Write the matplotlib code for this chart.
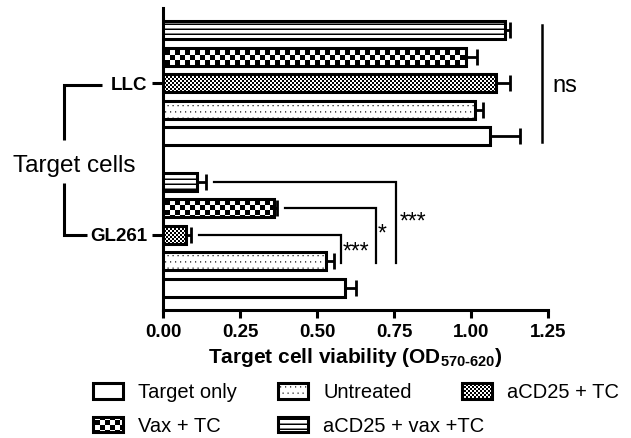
import numpy as np
import matplotlib
matplotlib.use('Agg')
import matplotlib.pyplot as plt
from matplotlib import hatch as mhatch
from matplotlib.path import Path
from matplotlib.patches import Patch
from matplotlib.lines import Line2D

# ---------------- data ----------------
groups = ['LLC', 'GL261']
series = ['aCD25 + vax +TC', 'Vax + TC', 'aCD25 + TC', 'Untreated', 'Target only']
llc_vals = [1.11, 0.985, 1.08, 1.013, 1.063]
llc_errs = [0.017, 0.035, 0.045, 0.027, 0.095]
gl_vals = [0.11, 0.36, 0.075, 0.53, 0.59]
gl_errs = [0.03, 0.01, 0.017, 0.025, 0.037]
xticks = [0.0, 0.25, 0.5, 0.75, 1.0, 1.25]
xtick_labels = ['0.00', '0.25', '0.50', '0.75', '1.00', '1.25']
sig_labels = ['***', '*', '***']          # aCD25+vax+TC, Vax+TC, aCD25+TC vs Untreated (GL261)
ns_label = 'ns'
legend_rows = [['Target only', 'Untreated', 'aCD25 + TC'],
               ['Vax + TC', 'aCD25 + vax +TC']]

# ---------------- custom fill patterns (checkerboards etc.) ----------------
class _RectHatch(mhatch.HatchPatternBase):
    char = ''
    def __init__(self, hatch, density):
        self.rects = self.make_rects() if (hatch and self.char in hatch) else []
        self.num_vertices = 5 * len(self.rects)
    def make_rects(self):
        return []
    def set_vertices_and_codes(self, vertices, codes):
        for i, (x0, y0, w, h) in enumerate(self.rects):
            vertices[5*i:5*i+5] = [(x0, y0), (x0+w, y0), (x0+w, y0+h), (x0, y0+h), (x0, y0)]
            codes[5*i] = Path.MOVETO
            codes[5*i+1:5*i+4] = Path.LINETO
            codes[5*i+4] = Path.CLOSEPOLY

class _Lines(_RectHatch):
    char = '-'
    def make_rects(self):
        return [(0, k/20, 1, 0.015) for k in range(20)]

class _Checker(_RectHatch):
    char = 'o'
    n = 20
    def make_rects(self):
        s = 1.0 / self.n
        return [(i*s, j*s, s, s) for i in range(self.n) for j in range(self.n) if (i+j) % 2 == 0]

class _FineChecker(_Checker):
    char = 'O'
    n = 50

class _Dots(_RectHatch):
    char = '.'
    def make_rects(self):
        out = []
        for r in range(16):
            for c in range(20):
                out.append(((c + 0.5*(r % 2))/20, r/16, 0.012, 0.012))
        return out

mhatch._hatch_types[:] = [_Lines, _Checker, _FineChecker, _Dots]

hatches = {'aCD25 + vax +TC': '-', 'Vax + TC': 'o', 'aCD25 + TC': 'O',
           'Untreated': '.', 'Target only': None}

plt.rcParams['font.family'] = ['Liberation Sans', 'DejaVu Sans']
plt.rcParams['mathtext.fontset'] = 'custom'
plt.rcParams['mathtext.rm'] = 'Liberation Sans:bold'
plt.rcParams['mathtext.bf'] = 'Liberation Sans:bold'
plt.rcParams['mathtext.it'] = 'Liberation Sans:bold'
plt.rcParams['hatch.linewidth'] = 0.0
plt.rcParams['hatch.color'] = 'black'

W, H = 631, 438
fig = plt.figure(figsize=(W/100, H/100), dpi=100)
ax = fig.add_axes([163/W, 1-310/H, 385/W, 302/H])

n = len(series)
llc_pos = np.arange(n, dtype=float)
gl_pos = np.arange(n, dtype=float) + n + 0.7
LW = 2.2
for vals, errs, pos in [(llc_vals, llc_errs, llc_pos), (gl_vals, gl_errs, gl_pos)]:
    for i, s in enumerate(series):
        ax.barh(pos[i], vals[i], height=0.68, color='white', edgecolor='black',
                linewidth=LW, hatch=hatches[s], zorder=3)
    ax.errorbar(vals, pos, xerr=[np.zeros(n), errs], fmt='none', ecolor='black',
                elinewidth=2, capsize=5.5, capthick=2, zorder=2)

ax.set_xlim(0, 1.25)
ax.set_ylim(10.53, -0.83)
ax.set_xticks(xticks)
ax.set_xticklabels(xtick_labels, fontweight='bold', fontsize=13.5)
ax.set_yticks([llc_pos[2], gl_pos[2]])
ax.set_yticklabels(groups, fontweight='bold', fontsize=13.5)
ax.tick_params(axis='x', length=6, width=LW, pad=4)
ax.tick_params(axis='y', length=8, width=LW, pad=3)
for sp in ['top', 'right']:
    ax.spines[sp].set_visible(False)
for sp in ['left', 'bottom']:
    ax.spines[sp].set_linewidth(LW)
ax.set_xlabel('Target cell viability (OD$_{570\u2010620}$)', fontweight='bold',
              fontsize=15, labelpad=4)

# significance brackets (GL261: each vs Untreated)
ref_y = gl_pos[3] + 0.05
bracket_right = [0.757, 0.69, 0.578]
star_xy = [(0.77, 7.48), (0.698, 7.9), (0.583, 8.6)]
for k in range(3):
    x0 = gl_vals[k] + gl_errs[k] + 0.025
    x1 = bracket_right[k]
    ax.plot([x0, x1, x1], [gl_pos[k], gl_pos[k], ref_y], color='black', lw=1.6,
            solid_joinstyle='miter', clip_on=False, zorder=4)
    ax.text(star_xy[k][0], star_xy[k][1], sig_labels[k], fontsize=16.5,
            ha='left', va='baseline')

# ns bar for LLC
ax.plot([1.23, 1.23], [llc_pos[0] - 0.19, llc_pos[4] + 0.2], color='black', lw=1.8, clip_on=False)
ax.text(1.266, 2.33, ns_label, fontsize=17, ha='left', va='baseline', clip_on=False)

# left "Target cells" bracket
def fp(x, y):
    return x / W, 1 - y / H
for pts in [[(102, 85), (64, 85), (64, 140)], [(64, 183), (64, 235), (87, 235)]]:
    xs, ys = zip(*[fp(*p) for p in pts])
    fig.add_artist(Line2D(xs, ys, transform=fig.transFigure, color='black', lw=LW,
                          solid_joinstyle='miter', solid_capstyle='butt'))
fig.text(*fp(74.5, 172), 'Target cells', ha='center', va='baseline', fontsize=17.5)

# legend entries
leg_anchor = {'Target only': (93, 392.5), 'Untreated': (278, 392.5), 'aCD25 + TC': (462, 392.5),
              'Vax + TC': (93, 426), 'aCD25 + vax +TC': (278, 426)}
for row in legend_rows:
    for s in row:
        h = Patch(facecolor='white', edgecolor='black', linewidth=LW, hatch=hatches[s], label=s)
        fig.legend(handles=[h], loc='center left', bbox_to_anchor=fp(*leg_anchor[s]),
                   frameon=False, fontsize=14.5, handlelength=1.5, handleheight=0.8,
                   handletextpad=0.75, borderpad=0, borderaxespad=0)

fig.savefig('out.png', dpi=100, facecolor='white')
